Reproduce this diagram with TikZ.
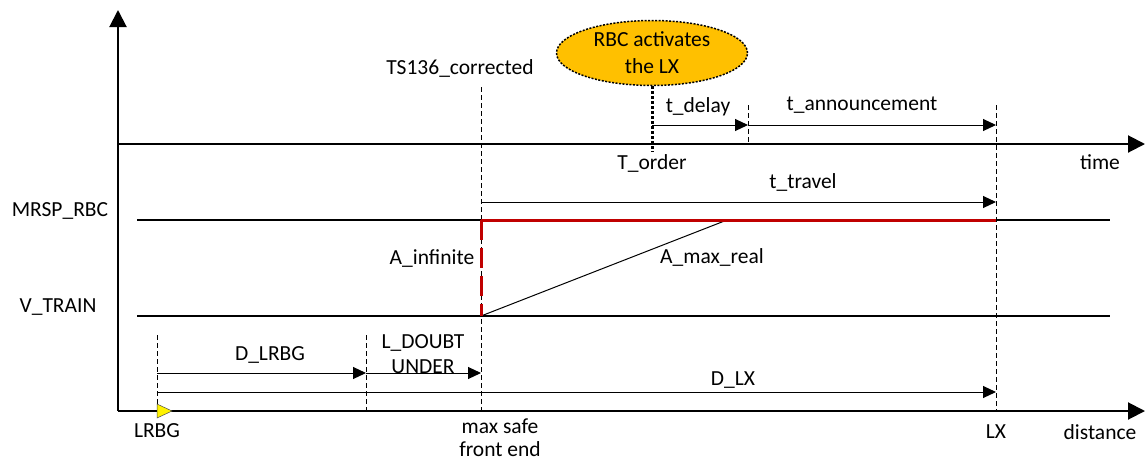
\documentclass[tikz,border=0pt]{standalone}
\usepackage{fontspec}
\setmainfont{Carlito}
\usetikzlibrary{arrows.meta,shapes.geometric}
\definecolor{rbcorange}{HTML}{FFC000}
\definecolor{mrspred}{HTML}{C00000}

\begin{document}
\begin{tikzpicture}[x=1pt,y=-1pt,
    every node/.style={font=\fontsize{21.5}{27}\selectfont,inner sep=1pt},
    axis/.style={line width=2pt,-{Triangle[length=17pt,width=17pt]}},
    dim/.style={line width=1pt,-{Triangle[length=13pt,width=12pt]}},
    guide/.style={line width=0.8pt,dash pattern=on 5pt off 3pt},
    level/.style={line width=1.2pt},
    event/.style={ellipse,draw,fill=rbcorange,line width=1.5pt,
      dash pattern=on 2pt off 1.5pt,minimum width=191pt,minimum height=65pt,
      inner sep=0pt,align=center}]
  \useasboundingbox (0,0) rectangle (1145,461);

  % axes
  \coordinate (o) at (118,411);
  \coordinate (vtop) at (118,10);
  \coordinate (dend) at (1145,411);
  \coordinate (t0) at (118,144);
  \coordinate (tend) at (1145,144);
  \draw[axis] (o) -- (vtop);
  \draw[axis] (t0) -- (tend);
  \draw[axis] (o) -- (dend);

  % speed levels
  \coordinate (mrspA) at (137,220);
  \coordinate (mrspB) at (1110,220);
  \coordinate (vtrA) at (137,316);
  \coordinate (vtrB) at (1110,316);
  \draw[level] (mrspA) -- (mrspB);
  \draw[level] (vtrA) -- (vtrB);

  % guide lines
  \coordinate (tsTop) at (481,87);
  \coordinate (tsBot) at (481,411);
  \coordinate (lxTop) at (996,105);
  \coordinate (lxBot) at (996,411);
  \coordinate (dlTop) at (748,105);
  \coordinate (dlBot) at (748,144);
  \coordinate (lrbgTop) at (157,335);
  \coordinate (lrbgBot) at (157,411);
  \coordinate (ldTop) at (366,335);
  \coordinate (ldBot) at (366,411);
  \begin{scope}[guide]
    \draw (tsTop) -- (tsBot);
    \draw (lxTop) -- (lxBot);
    \draw (dlTop) -- (dlBot);
    \draw (lrbgTop) -- (lrbgBot);
    \draw (ldTop) -- (ldBot);
  \end{scope}

  % braking curves
  \coordinate (mrspTs) at (481,220);
  \coordinate (mrspLx) at (996,220);
  \coordinate (vtrTs) at (481,316);
  \coordinate (amax) at (727,220);
  \draw[line width=1pt] (vtrTs) -- (amax);
  \draw[mrspred,line width=3pt] (mrspTs) -- (mrspLx);
  \draw[mrspred,line width=3pt,dash pattern=on 20pt off 8pt] (mrspTs) -- (vtrTs);

  % RBC order
  \node[event] (rbc) at (652,53) {RBC activates\\the LX};
  \coordinate (tord) at (652,152);
  \draw[line width=3pt,dash pattern=on 3pt off 2pt] (rbc.south) -- (tord);

  % durations and distances
  \coordinate (dly0) at (652,125);
  \coordinate (dly1) at (748,125);
  \coordinate (ann1) at (996,125);
  \coordinate (trv0) at (481,202);
  \coordinate (trv1) at (996,202);
  \coordinate (dl0) at (157,373);
  \coordinate (dl1) at (366,373);
  \coordinate (dl2) at (481,373);
  \coordinate (dlx0) at (157,392);
  \coordinate (dlx1) at (996,392);
  \begin{scope}[dim]
    \draw (dly0) -- (dly1);
    \draw (dly1) -- (ann1);
    \draw (trv0) -- (trv1);
    \draw (dl0) -- (dl1);
    \draw (dl1) -- (dl2);
    \draw (dlx0) -- (dlx1);
  \end{scope}

  % LRBG balise
  \filldraw[fill=yellow,draw=black!70,line width=0.5pt]
    (157,404) -- (172,411) -- (157,418) -- cycle;

  % labels
  \node (ts) at (460,68) {TS136\_corrected};
  \node (torder) at (652,163) {T\_order};
  \node (tdelay) at (698,107) {t\_delay};
  \node (tann) at (862,105) {t\_announcement};
  \node (time) at (1100,162) {time};
  \node (ttravel) at (803,182) {t\_travel};
  \node (mrsp) at (60,211) {MRSP\_RBC};
  \node (vtrain) at (58,307) {V\_TRAIN};
  \node (ainf) at (432,259) {A\_infinite};
  \node (amaxr) at (712,257) {A\_max\_real};
  \node (dlrbg) at (270,355) {D\_LRBG};
  \node[align=center,font=\fontsize{21.5}{25}\selectfont] (ldoubt) at (423,354) {L\_DOUBT\\UNDER};
  \node (dlx) at (733,380) {D\_LX};
  \node (lrbg) at (157,431) {LRBG};
  \node[align=center,font=\fontsize{21.5}{23}\selectfont] (msfe) at (500,438) {max safe\\front end};
  \node (lx) at (996,432) {LX};
  \node (dist) at (1100,432) {distance};
\end{tikzpicture}
\end{document}
